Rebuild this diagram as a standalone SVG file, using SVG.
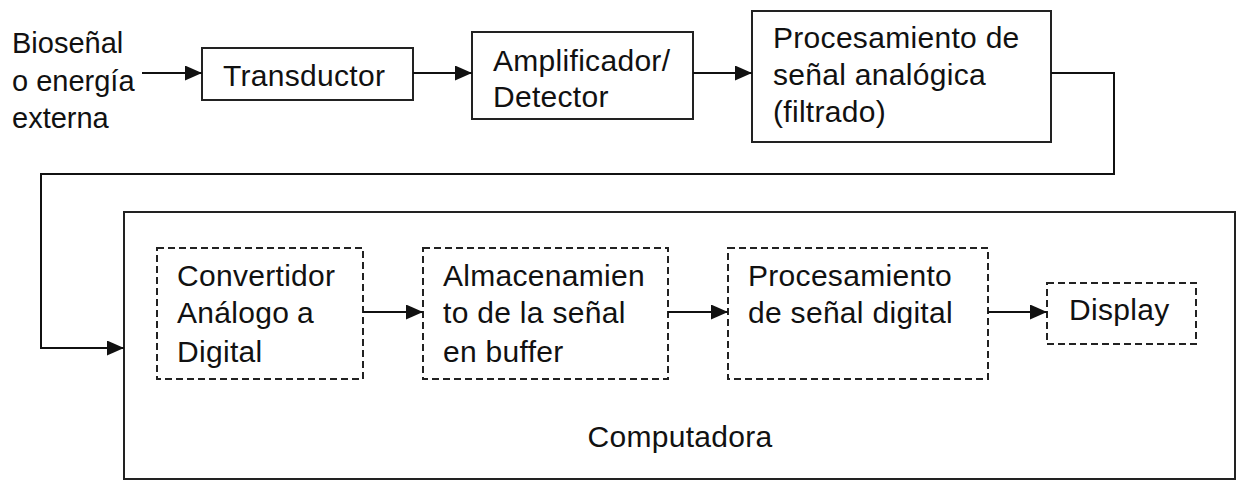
<svg xmlns="http://www.w3.org/2000/svg" width="1237" height="481" viewBox="0 0 1237 481">
<style>
.t{font-family:"Liberation Sans",Arial,sans-serif;font-size:30px;letter-spacing:0.3px;fill:#111}
.in{font-size:29px;letter-spacing:0}
.box{fill:none;stroke:#222;stroke-width:2}
.dash{fill:none;stroke:#222;stroke-width:2;stroke-dasharray:7,4}
.c{fill:none;stroke:#111;stroke-width:2}
</style>
<defs>
<marker id="ah" markerUnits="userSpaceOnUse" markerWidth="17" markerHeight="15" refX="17" refY="7.5" orient="auto">
<path d="M0,0 L17,7.5 L0,15 z" fill="#111"/>
</marker>
</defs>
<rect width="1237" height="481" fill="#fff"/>
<g id="input">
<text class="t in" x="12" y="53">Bioseñal</text>
<text class="t in" x="12" y="91">o energía</text>
<text class="t in" x="12" y="128">externa</text>
</g>
<g id="transductor">
<rect class="box" x="202" y="48" width="211" height="52"/>
<text class="t" x="223" y="86">Transductor</text>
</g>
<g id="amplificador">
<rect class="box" x="472" y="32" width="221" height="87"/>
<text class="t" x="493" y="71">Amplificador/</text>
<text class="t" x="493" y="107">Detector</text>
</g>
<g id="procesamiento-analogico">
<rect class="box" x="752" y="11" width="299" height="131"/>
<text class="t" x="773" y="48">Procesamiento de</text>
<text class="t" x="773" y="85">señal analógica</text>
<text class="t" x="773" y="122">(filtrado)</text>
</g>
<g id="computadora">
<rect class="box" x="124" y="212" width="1111" height="267"/>
<text class="t" x="680" y="447" text-anchor="middle">Computadora</text>
</g>
<g id="convertidor">
<rect class="dash" x="157" y="248" width="206" height="131"/>
<text class="t" x="177" y="286">Convertidor</text>
<text class="t" x="177" y="323">Análogo<tspan x="297">a</tspan></text>
<text class="t" x="177" y="362">Digital</text>
</g>
<g id="almacenamiento">
<rect class="dash" x="423" y="248" width="245" height="131"/>
<text class="t" x="443" y="286">Almacenamien</text>
<text class="t" x="443" y="323">to de la señal</text>
<text class="t" x="443" y="362">en buffer</text>
</g>
<g id="procesamiento-digital">
<rect class="dash" x="728" y="248" width="260" height="131"/>
<text class="t" x="748" y="286">Procesamiento</text>
<text class="t" x="748" y="323">de señal digital</text>
</g>
<g id="display">
<rect class="dash" x="1047" y="283" width="149" height="61"/>
<text class="t" x="1069" y="320">Display</text>
</g>
<g id="connectors">
<line class="c" x1="142" y1="73" x2="202" y2="73" marker-end="url(#ah)"/>
<line class="c" x1="413" y1="73" x2="472" y2="73" marker-end="url(#ah)"/>
<line class="c" x1="693" y1="73" x2="752" y2="73" marker-end="url(#ah)"/>
<polyline class="c" points="1051,73 1114,73 1114,174 41,174 41,348 124,348" marker-end="url(#ah)"/>
<line class="c" x1="363" y1="312" x2="423" y2="312" marker-end="url(#ah)"/>
<line class="c" x1="668" y1="312" x2="728" y2="312" marker-end="url(#ah)"/>
<line class="c" x1="988" y1="312" x2="1047" y2="312" marker-end="url(#ah)"/>
</g>
</svg>
